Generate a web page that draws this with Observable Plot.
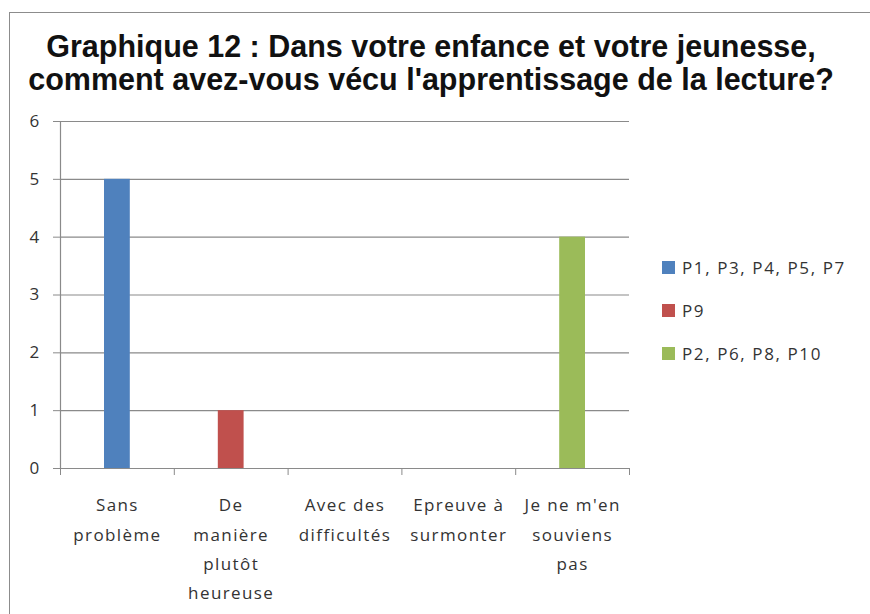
<!DOCTYPE html>
<html><head><meta charset="utf-8">
<script src="https://cdn.jsdelivr.net/npm/d3@7"></script>
<script src="https://cdn.jsdelivr.net/npm/@observablehq/plot@0.6"></script>
<style>
body{margin:0;background:#fff;}
#wrap{position:relative;width:870px;height:614px;overflow:hidden;font-family:"Open Sans",sans-serif;}
#border{position:absolute;left:9px;top:12px;width:900px;height:700px;border-left:1.5px solid #8c8c8c;border-top:1.5px solid #8c8c8c;}
#title{position:absolute;left:0;top:30px;width:862px;text-align:center;font:bold 30.5px "Liberation Sans",Arial,sans-serif;line-height:33px;color:#111;white-space:nowrap;}
#chart{position:absolute;left:0;top:0;}
#legend{position:absolute;left:662px;top:246px;font-size:17px;letter-spacing:1.6px;color:#333;}
.item{display:flex;align-items:center;height:43px;white-space:nowrap;}
.sw{width:13px;height:13px;margin-right:7px;}
</style></head>
<body>
<div id="wrap">
  <div id="border"></div>
  <div id="title">Graphique 12 : Dans votre enfance et votre jeunesse,<br>comment avez-vous vécu l'apprentissage de la lecture?</div>
  <div id="chart"></div>
  <div id="legend"></div>
</div>
<script>
const categories = ["Sans problème", "De manière plutôt heureuse", "Avec des difficultés", "Epreuve à surmonter", "Je ne m'en souviens pas"];
const tickLabels = ["Sans\nproblème", "De\nmanière\nplutôt\nheureuse", "Avec des\ndifficultés", "Epreuve à\nsurmonter", "Je ne m'en\nsouviens\npas"];
const series = ["P1, P3, P4, P5, P7", "P9", "P2, P6, P8, P10"];
const colors = ["#4F81BD", "#C0504D", "#9BBB59"];
const valuesP1 = [5, 0, 0, 0, 0];
const valuesP9 = [0, 1, 0, 0, 0];
const valuesP2 = [0, 0, 0, 0, 4];
const yTicks = [0, 1, 2, 3, 4, 5, 6];

const seriesValues = [valuesP1, valuesP9, valuesP2];
const data = [];
seriesValues.forEach((vals, s) => vals.forEach((v, i) => {
  if (v > 0) data.push({series: series[s], index: i, value: v});
}));

const boundaries = d3.range(categories.length + 1);
const centers = categories.map((c, i) => i + 0.5);

const chart = Plot.plot({
  width: 870,
  height: 614,
  marginLeft: 60,
  marginRight: 241,
  marginTop: 121,
  marginBottom: 146,
  style: {fontFamily: "'Open Sans', sans-serif", color: "#333", background: "transparent", letterSpacing: "1.4px"},
  x: {domain: [0, categories.length], axis: null, label: null},
  y: {domain: [0, 6], axis: null, label: null},
  color: {domain: series, range: colors},
  marks: [
    Plot.ruleY(yTicks, {stroke: "#8a8a8a", strokeWidth: 1.2}),
    Plot.ruleX([0], {stroke: "#8a8a8a", strokeWidth: 1.2}),
    Plot.rectY(data, {x1: "index", x2: d => d.index + 1, y: "value", fill: "series", insetLeft: 44, insetRight: 44}),
    Plot.axisY({ticks: yTicks, label: null, tickSize: 7, tickPadding: 13, fontSize: 17, stroke: "#8a8a8a", tickFormat: d3.format("d")}),
    Plot.axisX({ticks: boundaries, label: null, tickSize: 7, tickFormat: () => "", stroke: "#8a8a8a"}),
    Plot.axisX({ticks: centers, label: null, tickSize: 0, tickPadding: 22, fontSize: 17, lineHeight: 1.72, tickFormat: d => tickLabels[Math.floor(d)]})
  ]
});
document.getElementById("chart").appendChild(chart);

const legend = document.getElementById("legend");
series.forEach((s, i) => {
  const item = document.createElement("div");
  item.className = "item";
  const sw = document.createElement("div");
  sw.className = "sw";
  sw.style.background = colors[i];
  const t = document.createElement("span");
  t.textContent = s;
  item.appendChild(sw);
  item.appendChild(t);
  legend.appendChild(item);
});
</script>
</body></html>
